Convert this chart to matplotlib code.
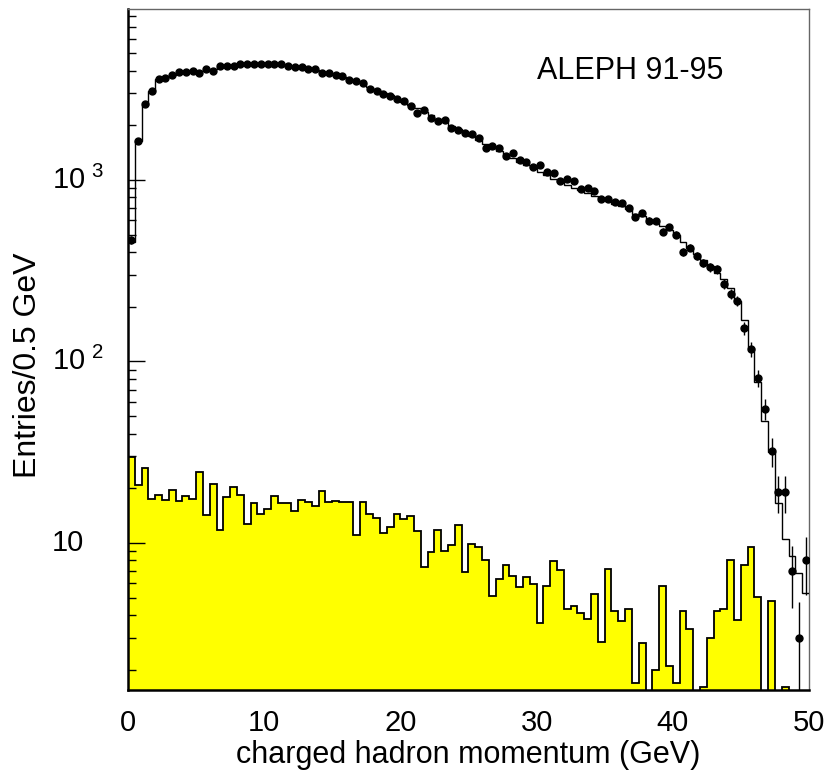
import numpy as np
import matplotlib
matplotlib.use("Agg")
import matplotlib.pyplot as plt
from matplotlib.transforms import blended_transform_factory

plt.rcParams['font.family'] = ['Liberation Sans', 'DejaVu Sans']
plt.rcParams['mathtext.fontset'] = 'custom'
plt.rcParams['mathtext.rm'] = 'Liberation Sans'
plt.rcParams['mathtext.default'] = 'regular'

# 100 bins of 0.5 GeV between 0 and 50 GeV
bin_edges = np.linspace(0, 50, 101)

# data (ALEPH 91-95), entries per bin
data_counts = [467, 1640, 2625, 3090, 3616, 3663, 3800, 3920, 3937, 3975,
               3902, 4075, 4000, 4240, 4240, 4250, 4375, 4375, 4375, 4375,
               4375, 4375, 4375, 4263, 4210, 4180, 4105, 4075, 3902, 3902,
               3776, 3743, 3558, 3500, 3413, 3160, 3104, 2988, 2891, 2794,
               2724, 2566, 2350, 2420, 2203, 2104, 2132, 1941, 1885, 1807,
               1792, 1710, 1507, 1546, 1496, 1351, 1408, 1289, 1261, 1184,
               1205, 1107, 1089, 991, 1009, 984, 892, 900, 873, 783,
               783, 757, 744, 703, 625, 658, 597, 594, 519, 551,
               500, 400, 424, 381, 348, 330, 321, 267, 236, 216,
               153, 117, 81, 55, 32, 19, 19, 7, 3, 8]

# Monte Carlo prediction
mc_counts = [455, 1640, 2600, 3100, 3600, 3680, 3800, 3900, 3940, 3960,
             3980, 4050, 4080, 4200, 4250, 4290, 4330, 4350, 4360, 4360,
             4350, 4330, 4300, 4260, 4210, 4160, 4100, 4030, 3950, 3880,
             3790, 3700, 3600, 3500, 3400, 3270, 3150, 3030, 2920, 2810,
             2700, 2590, 2480, 2380, 2270, 2170, 2080, 1990, 1900, 1820,
             1740, 1660, 1580, 1510, 1440, 1380, 1320, 1260, 1210, 1160,
             1110, 1060, 1015, 975, 940, 905, 880, 850, 820, 790,
             765, 740, 715, 690, 650, 630, 605, 580, 555, 530,
             500, 457, 424, 390, 363, 335, 306, 284, 255, 215,
             169, 118, 77, 47, 31.6, 16.6, 10.5, 8.5, 6.8, 5.3]

# background contribution (yellow)
bkg_counts = [29.6, 20.8, 26, 17.5, 18.4, 17.2, 19.5, 17, 18.1, 17.5,
              24.5, 14.3, 21.1, 11.8, 17.9, 20.4, 18.4, 12.7, 16.6, 14.5,
              15.3, 18.2, 16.6, 16.6, 14.9, 17.2, 16.8, 16.0, 19.4, 16.8,
              17.0, 16.8, 16.8, 11.0, 16.8, 14.4, 13.7, 11.4, 12.2, 14.5,
              13.5, 14.0, 11.7, 7.4, 8.9, 11.8, 9.0, 9.7, 12.6, 6.9,
              9.8, 9.5, 8.1, 5.1, 6.3, 7.6, 6.6, 5.7, 6.5, 5.9,
              3.6, 5.8, 7.9, 7.1, 4.3, 4.5, 4.1, 3.8, 5.2, 2.85,
              7.2, 4.2, 3.7, 4.3, 1.7, 2.8, 0, 2.0, 5.8, 2.1,
              1.69, 4.2, 3.36, 0, 1.6, 3.0, 4.2, 4.3, 8.05, 3.77,
              7.6, 9.55, 5.06, 0, 4.8, 0, 1.6, 0, 0, 0]

ytick_values = [10, 100, 1000]
ytick_labels = ["10", "10$^{\\ 2}$", "10$^{\\ 3}$"]

data_counts = np.array(data_counts, dtype=float)
mc_counts = np.array(mc_counts, dtype=float)
bkg_counts = np.array(bkg_counts, dtype=float)
centers = 0.5 * (bin_edges[:-1] + bin_edges[1:])

fig = plt.figure(figsize=(8.31, 7.76), dpi=100)
ax = fig.add_axes([0.154, 0.111, 0.8195, 0.8775])

# background, filled
bkg_draw = np.clip(bkg_counts, 1e-2, None)
ax.stairs(bkg_draw, bin_edges, fill=True, color='#ffff00', baseline=1e-2, zorder=1)
ax.stairs(bkg_draw, bin_edges, color='black', lw=1.3, baseline=1e-2, zorder=2)

# MC
ax.stairs(mc_counts, bin_edges, color='black', lw=1.0, baseline=None, zorder=3)

# data points with poisson errors
ax.errorbar(centers, data_counts, yerr=np.sqrt(data_counts), fmt='o', color='black',
            ms=5, elinewidth=1, capsize=0, zorder=4)

ax.set_yscale('log')
ax.set_xlim(0, 50)
ax.set_ylim(1.55, 8750)

ax.set_xticks([0, 10, 20, 30, 40, 50])
ax.tick_params(axis='x', length=0, labelsize=21, pad=14)
ax.set_yticks(ytick_values)
ax.set_yticklabels([])
ax.tick_params(axis='y', which='major', direction='in', length=12, width=1)
ax.tick_params(axis='y', which='minor', direction='in', length=6, width=1, labelleft=False)

trans = blended_transform_factory(fig.transFigure, ax.transData)
for v, lab in zip(ytick_values, ytick_labels):
    ax.text(52 / 831, v, lab, transform=trans, ha='left', va='center', fontsize=21)

for side in ['left', 'bottom']:
    ax.spines[side].set_linewidth(1.8)
for side in ['top', 'right']:
    ax.spines[side].set_linewidth(1.0)
    ax.spines[side].set_color('#666666')

ax.set_xlabel('charged hadron momentum (GeV)', fontsize=22, labelpad=2)
fig.text(28 / 831, 1 - 365 / 776, 'Entries/0.5 GeV', rotation=90, ha='center', va='center',
         fontsize=23)

ax.text(0.6006, 0.909, 'ALEPH 91-95', transform=ax.transAxes, ha='left', va='center', fontsize=22)

fig.savefig('out.png', dpi=100)
